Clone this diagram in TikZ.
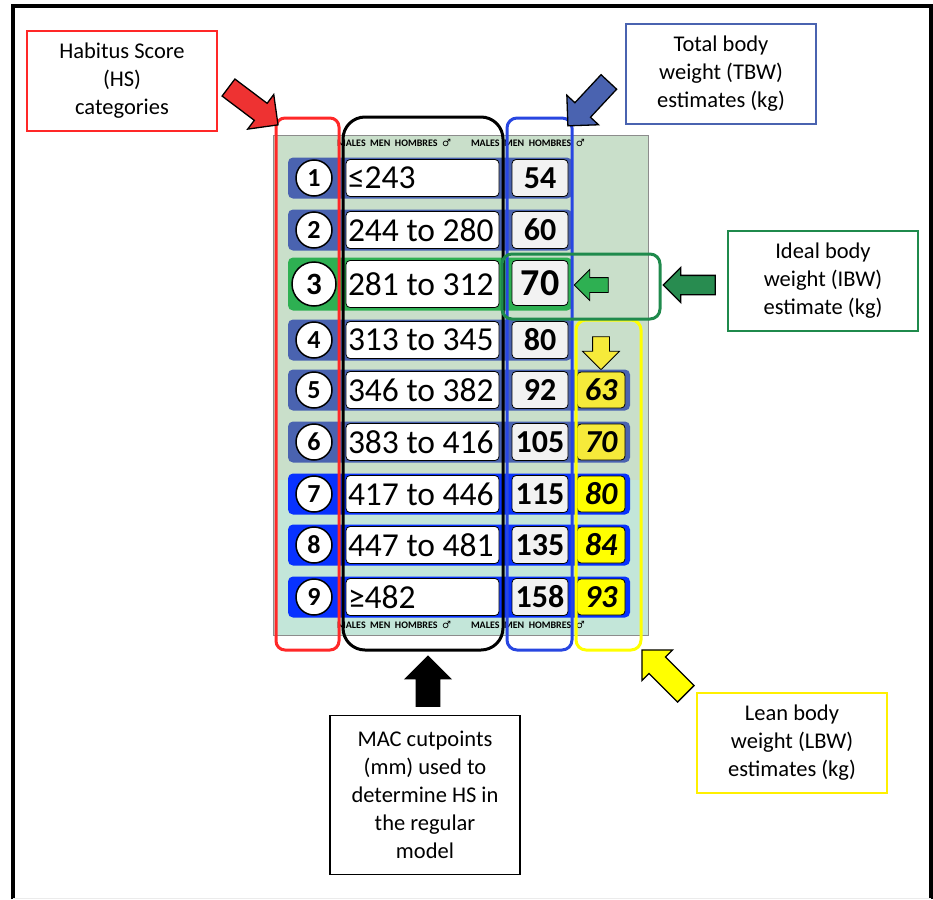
\documentclass[tikz,border=0pt]{standalone}
\usepackage{fontspec}
\setmainfont{Carlito}
\newfontfamily\symbfont{DejaVu Sans}
\usetikzlibrary{shapes.arrows}

\definecolor{panelgreen}{RGB}{201,223,202}
\definecolor{panelcyan}{RGB}{195,230,217}
\definecolor{barblue}{RGB}{74,99,176}
\definecolor{barbright}{RGB}{8,50,255}
\definecolor{bargreen}{RGB}{46,176,82}
\definecolor{lbwpale}{RGB}{246,234,58}
\definecolor{lbwbright}{RGB}{255,255,0}
\definecolor{hsred}{RGB}{255,40,40}
\definecolor{tbwblue}{RGB}{40,70,225}
\definecolor{ibwgreen}{RGB}{31,138,76}
\definecolor{arrowred}{RGB}{238,50,50}
\definecolor{arrowgreen}{RGB}{40,140,80}
\definecolor{labelyellow}{RGB}{255,240,0}

\newcommand{\macleft}[1]{\makebox[149pt][l]{#1}}

\tikzset{rowbar/.style  = {rectangle, rounded corners=5pt, minimum height=41, inner sep=0pt},
	hsnum/.style    = {circle, draw, line width=1.5pt, fill=white, minimum size=36, inner sep=0pt,
		font=\bfseries\fontsize{26}{26}\selectfont},
	macbox/.style   = {rectangle, draw, line width=0.8pt, fill=white, rounded corners=4pt,
		minimum width=153, minimum height=37, inner sep=1pt, font=\fontsize{33.5}{33.5}\selectfont},
	tbwbox/.style   = {rectangle, draw, line width=0.8pt, fill=black!5, rounded corners=4pt,
		minimum width=56, minimum height=37, inner sep=0pt, font=\bfseries\fontsize{32}{32}\selectfont},
	lbwbox/.style   = {rectangle, draw, line width=0.8pt, rounded corners=4pt, minimum width=48,
		minimum height=36, inner sep=0pt, font=\bfseries\itshape\fontsize{32}{32}\selectfont},
	header/.style   = {font=\bfseries\fontsize{10}{10}\selectfont, inner sep=0pt},
	outline/.style  = {rectangle, line width=3pt, inner sep=0pt},
	labelbox/.style = {rectangle, draw, line width=1.5pt, align=center, minimum width=190,
		minimum height=100, font=\fontsize{22.5}{28}\selectfont},
	blockarrow/.style = {single arrow, draw=black, line width=1.3pt, inner xsep=0pt}
}

\begin{document}
\begin{tikzpicture}[x=1pt, y=-1pt]
	\useasboundingbox (0,0) rectangle (933,899);
	% frame
	\draw[line width=4pt] (13,899) -- (13,6) -- (931,6) -- (931,899);
	\draw[black!8, line width=1pt] (13,898) -- (931,898);

	% card
	\fill[panelgreen] (273,135) rectangle (648,480);
	\fill[panelcyan] (273,480) rectangle (648,635);
	\draw[black!45, line width=0.8pt] (273,135) rectangle (648,635);
	\node[header] (headtop) at (461,143) {MALES\ \ MEN\ \ HOMBRES\ \ {\symbfont ♂}\qquad MALES\ \ MEN\ \ HOMBRES\ \ {\symbfont ♂}};
	\node[header] (headbot) at (461,625) {MALES\ \ MEN\ \ HOMBRES\ \ {\symbfont ♂}\qquad MALES\ \ MEN\ \ HOMBRES\ \ {\symbfont ♂}};

	% rows without LBW
	\foreach \n/\y/\mac/\tbw in {1/178/≤243/54, 2/230/244 to 280/60, 4/340/313 to 345/80}{
		\node[rowbar, fill=barblue, minimum width=284] (bar\n) at (430,\y) {};
		\node[hsnum] (hs\n) at (314,\y) {\n};
		\node[macbox] (mac\n) at (422.5,\y) {\macleft{\mac}};
		\node[tbwbox] (tbw\n) at (540,\y) {\tbw};
	}
	% row 3 (IBW)
	\node[rowbar, fill=bargreen, minimum width=284, minimum height=53] (bar3) at (430,284) {};
	\node[hsnum, minimum size=44, font=\bfseries\fontsize{31}{31}\selectfont] (hs3) at (314,284) {3};
	\node[macbox, minimum height=47] (mac3) at (422.5,284) {\macleft{281 to 312}};
	\node[tbwbox, minimum height=45, font=\bfseries\fontsize{38}{38}\selectfont] (tbw3) at (540,283) {70};
	\node[blockarrow, fill=bargreen, line width=0.8pt, rotate=180, minimum height=34,
		inner ysep=7, single arrow head extend=8] (ibwmark) at (595,285) {};
	\node[blockarrow, fill=lbwpale, line width=0.8pt, rotate=-90, minimum height=33,
		inner ysep=8, single arrow head extend=10] (lbwmark) at (601,349) {};

	% rows with LBW
	\foreach \n/\y/\mac/\tbw/\lbw/\bc/\yc in {5/390/346 to 382/92/63/barblue/lbwpale,
		6/442/383 to 416/105/70/barblue/lbwpale, 7/494/417 to 446/115/80/barbright/lbwbright,
		8/545/447 to 481/135/84/barbright/lbwbright, 9/597/≥482/158/93/barbright/lbwbright}{
		\node[rowbar, fill=\bc, minimum width=342] (bar\n) at (459,\y) {};
		\node[hsnum] (hs\n) at (314,\y) {\n};
		\node[macbox] (mac\n) at (422.5,\y) {\macleft{\mac}};
		\node[tbwbox] (tbw\n) at (540,\y) {\tbw};
		\node[lbwbox, fill=\yc] (lbw\n) at (601,\y) {\lbw};
	}

	% column outlines
	\node[outline, draw=hsred, rounded corners=9pt, minimum width=63, minimum height=532] (hsframe) at (307.5,384) {};
	\node[outline, draw=black, rounded corners=22pt, minimum width=160, minimum height=533] (macframe) at (423,383.5) {};
	\node[outline, draw=tbwblue, rounded corners=10pt, minimum width=65, minimum height=532] (tbwframe) at (539.5,384) {};
	\node[outline, draw=lbwbright, rounded corners=10pt, minimum width=65, minimum height=330] (lbwframe) at (608.5,485) {};
	\node[outline, draw=ibwgreen, rounded corners=10pt, minimum width=158, minimum height=65] (ibwframe) at (581,286.5) {};

	% labels
	\node[labelbox, draw=hsred] (hslabel) at (122,81) {Habitus Score\\(HS)\\categories};
	\node[labelbox, draw=barblue] (tbwlabel) at (721,74) {Total body\\weight (TBW)\\estimates (kg)};
	\node[labelbox, draw=ibwgreen] (ibwlabel) at (823,281) {Ideal body\\weight (IBW)\\estimate (kg)};
	\node[labelbox, draw=labelyellow] (lbwlabel) at (792,743) {Lean body\\weight (LBW)\\estimates (kg)};
	\node[labelbox, draw=black, minimum height=159] (maclabel) at (425,795) {MAC cutpoints\\(mm) used to\\determine HS in\\the regular\\model};

	% pointers
	\node[blockarrow, fill=arrowred, rotate=-37, minimum height=62, inner ysep=10, single arrow head extend=11] (hsarrow) at (249,103) {};
	\node[blockarrow, fill=barblue, rotate=-133, minimum height=60, inner ysep=10, single arrow head extend=11] (tbwarrow) at (592,100) {};
	\node[blockarrow, fill=arrowgreen, rotate=180, minimum height=52, inner ysep=9, single arrow head extend=8] (ibwarrow) at (694,285) {};
	\node[blockarrow, fill=black, rotate=90, minimum height=50, inner ysep=11, single arrow head extend=11] (macarrow) at (428,687) {};
	\node[blockarrow, fill=lbwbright, rotate=135, minimum height=62, inner ysep=11, single arrow head extend=10] (lbwarrow) at (668,676) {};
\end{tikzpicture}
\end{document}
